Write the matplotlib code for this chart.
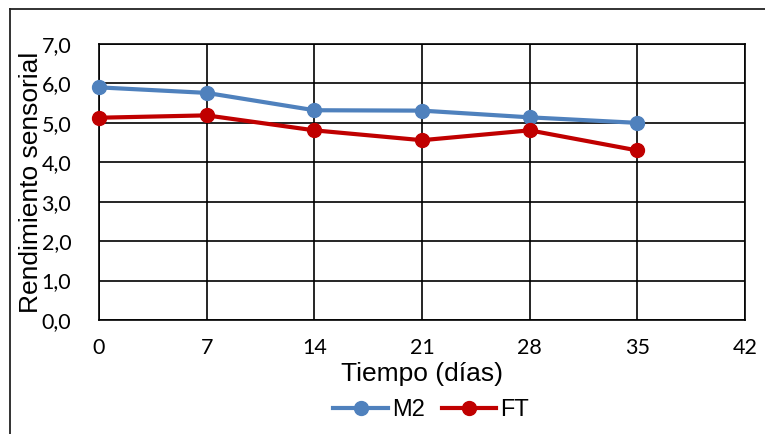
import matplotlib
matplotlib.use("Agg")
import matplotlib.pyplot as plt
from matplotlib.lines import Line2D

# valores
dias = [0, 7, 14, 21, 28, 35]
m2 = [5.9, 5.76, 5.32, 5.31, 5.14, 5.0]
ft = [5.13, 5.19, 4.81, 4.56, 4.81, 4.30]
xticks = [0, 7, 14, 21, 28, 35, 42]
yticks = [0, 1, 2, 3, 4, 5, 6, 7]

W, H = 765, 434
fig = plt.figure(figsize=(W / 100, H / 100), dpi=100)
ax = fig.add_axes([99 / W, 1 - 320 / H, (745 - 99) / W, (320 - 44) / H])

ax.plot(dias, m2, color='#4F81BD', lw=3, marker='o', ms=10, label='M2', clip_on=False, zorder=3)
ax.plot(dias, ft, color='#C00000', lw=3, marker='o', ms=10, label='FT', clip_on=False, zorder=3)

ax.set_xlim(0, 42)
ax.set_ylim(0, 7)
ax.set_xticks(xticks)
ax.set_yticks(yticks)
ax.set_yticklabels([f"{v:.1f}".replace('.', ',') for v in yticks])
ax.tick_params(length=0, labelsize=15.5, pad=13)
ax.tick_params(axis='y', pad=20)
for lab in ax.get_xticklabels() + ax.get_yticklabels():
    lab.set_family('Lato')
ax.grid(True, color='black', lw=1.2)
for s in ax.spines.values():
    s.set_color('black')
    s.set_linewidth(1.2)

ax.set_xlabel('Tiempo (días)', fontsize=19, family='Liberation Sans', labelpad=3)
ax.set_ylabel('Rendimiento sensorial', fontsize=19, family='Liberation Sans', labelpad=-1)

ax.legend(loc='center', bbox_to_anchor=(431 / W, 1 - 410 / H), bbox_transform=fig.transFigure,
          ncol=2, frameon=False, prop={'family': 'Liberation Sans', 'size': 17},
          handlelength=2.3, handletextpad=0.17, columnspacing=0.72, borderpad=0)

# marco exterior
fig.add_artist(Line2D([10 / W, 10 / W], [0, 1 - 9 / H], color='#222222', lw=1.3))
fig.add_artist(Line2D([10 / W, 1], [1 - 9 / H, 1 - 9 / H], color='#222222', lw=1.3))

fig.savefig('out.png', dpi=100)
